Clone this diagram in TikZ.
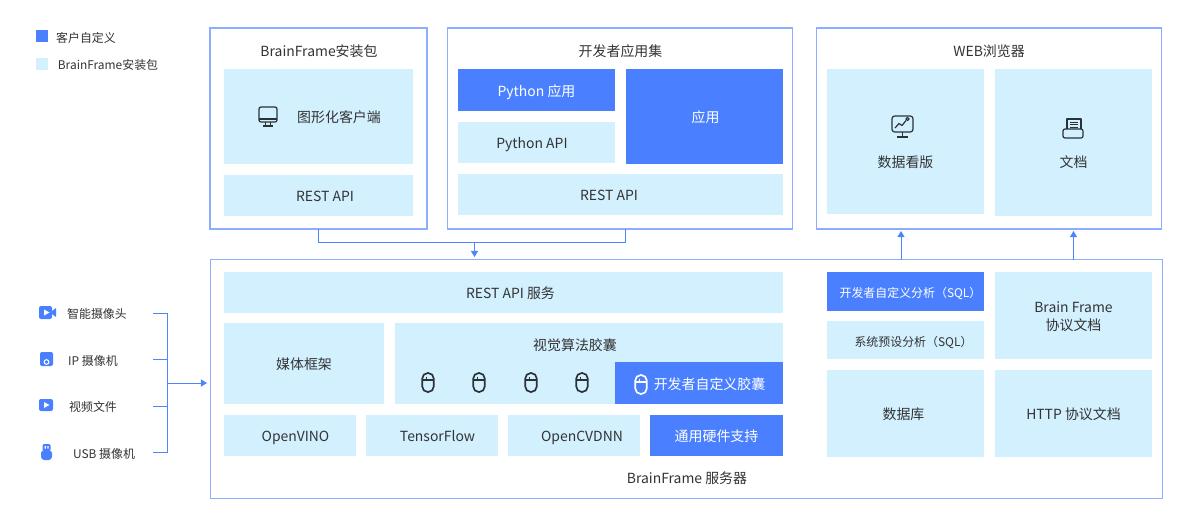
\documentclass[tikz,border=0pt]{standalone}
\usepackage{fontspec}
\setmainfont{Noto Sans CJK SC}
\usetikzlibrary{arrows.meta,calc}
\definecolor{lightb}{HTML}{D3F0FF}
\definecolor{blueb}{HTML}{4A80FF}
\definecolor{frameb}{HTML}{8DAEFF}
\definecolor{lineb}{HTML}{4F84FF}
\definecolor{txt}{HTML}{333333}
\definecolor{icon}{HTML}{2B3236}
\tikzset{
  base/.style={inner sep=0pt,outer sep=0pt,align=center,font=\fontsize{10.45pt}{13.5pt}\selectfont},
  light/.style={base,fill=lightb,text=txt,text height=10.2pt,text depth=1pt},
  blue/.style={base,fill=blueb,text=white,text height=10.2pt,text depth=1pt},
  frame/.style={base,draw=frameb,line width=0.8pt,fill=white},
  ttl/.style={base,text=txt},
  small/.style={font=\fontsize{8.95pt}{11pt}\selectfont},
  conn/.style={draw=lineb,line width=0.7pt},
  tip/.style={-{Triangle[length=4.6pt,width=5.4pt]}},
  ico/.style={draw=icon,line width=0.9pt,line join=round},
  swatchb/.style={fill=blueb,draw=none,inner sep=0pt,outer sep=0pt},
  swatchl/.style={fill=lightb,draw=none,inner sep=0pt,outer sep=0pt},
}
\newcommand\bx[7][]{%
  \pgfmathsetmacro\bw{(#4-#2)*0.75}\pgfmathsetmacro\bh{(#5-#3)*0.75}%
  \node[#6,minimum width=\bw pt,minimum height=\bh pt,#1] (#7) at ({(#2+#4)/2},{(#3+#5)/2})}
\newcommand\lbl[3]{% name, centre x, y
  \pgfmathsetmacro\bw{(153-#2)*2*0.75}%
  \node[ttl,small,minimum width=\bw pt] (#1) at (#2,#3)}
\newcommand\capsule[3]{% x, y, colour
  \begin{scope}[shift={(#1,#2)},draw=#3,line width=1.25pt]
    \draw[rounded corners=4.2pt] (-5.8,-9.5) rectangle (5.8,9.5);
    \draw (-5.8,-2.5) -- (5.8,-2.5);
    \draw (-1.5,-6) -- (-1.5,-3.5);
  \end{scope}}
\begin{document}
\begin{tikzpicture}[x=0.75pt,y=-0.75pt]
\useasboundingbox (0,0) rectangle (1188,526);
% legend
\bx{36}{30}{48}{42}{swatchb}{lega} {};
\node[ttl,small] (legat) at (86,38) {客户自定义};
\bx{36}{58}{48}{70}{swatchl}{legb} {};
\node[ttl,small] (legbt) at (108,65) {BrainFrame安装包};
% frames
\bx{210}{28}{427}{229}{frame}{pkg} {};
\bx{447.5}{28}{792.5}{229}{frame}{dev} {};
\bx{816.5}{28}{1161.5}{229}{frame}{web} {};
\bx{210.5}{259.5}{1162.5}{498.5}{frame}{srv} {};
\node[ttl] (pkgt) at (319,51) {BrainFrame安装包};
\node[ttl] (devt) at (620.5,51) {开发者应用集};
\node[ttl] (webt) at (989,51) {WEB浏览器};
\node[ttl] (srvt) at (687,478) {BrainFrame 服务器};
% package
\bx{224}{69}{413}{164}{light}{gui} {\hspace*{30.75pt}图形化客户端};
\bx{224}{175}{413}{216}{light}{rest1} {\hspace*{9.75pt}REST API};
% developer
\bx{458}{69}{615}{111}{blue}{pyapp} {Python 应用};
\bx{458}{122}{615}{163}{light}{pyapi} {Python API\hspace*{6.75pt}};
\bx{626}{69}{783}{164}{blue}{app} {\hspace*{1.5pt}应用};
\bx{458}{174}{783}{215}{light}{rest2} {REST API\hspace*{17.25pt}};
% web
\bx{827}{69}{984}{214}{light}{dash} {};
\bx{995}{69}{1152}{216}{light}{docs} {};
\node[ttl] (dasht) at (905.5,162) {数据看版};
\node[ttl] (docst) at (1073.5,162) {文档};
% server
\bx{224}{272}{783}{313}{light}{rest3} {\hspace*{10.5pt}REST API 服务};
\bx{224}{323}{384}{404}{light}{media} {媒体框架};
\bx{395}{323}{783}{404}{light}{vis} {};
\node[ttl] (vist) at (575,345) {视觉算法胶囊};
\bx{615}{362}{783}{404}{blue}{cust} {\hspace*{15.75pt}开发者自定义胶囊};
\bx{224}{415}{356}{456}{light}{ov} {\hspace*{8.25pt}OpenVINO};
\bx{366}{415}{498}{456}{light}{tf} {\hspace*{8.25pt}TensorFlow};
\bx{508}{415}{640}{456}{light}{cv} {\hspace*{12pt}OpenCVDNN};
\bx{650}{415}{783}{456}{blue}{hw} {通用硬件支持};
\bx{827}{272}{984}{311}{blue,small}{sql1} {\hspace*{7.5pt}开发者自定义分析（SQL）};
\bx{827}{321}{984}{359}{light,small}{sql2} {\hspace*{12pt}系统预设分析（SQL）};
\bx{827}{370}{984}{457}{light}{db} {数据库\hspace*{3pt}};
\bx{995}{272}{1152}{359}{light}{proto} {};
\node[ttl] (protot) at (1073.5,317) {Brain Frame\\协议文档};
\bx{995}{370}{1152}{457}{light}{http} {HTTP 协议文档};
% sources
\lbl{cam}{97}{314} {智能摄像头};
\lbl{ip}{93}{361} {IP 摄像机};
\lbl{vid}{93}{407} {视频文件};
\lbl{usb}{104}{454} {USB 摄像机};
% connectors
\coordinate (busTop) at (167,313);
\coordinate (busBot) at (167,452);
\coordinate (busMid) at (167,383);
\coordinate (inSrv) at (207,383);
\coordinate (cam0) at (153,313);
\coordinate (ip0) at (153,359);
\coordinate (vid0) at (153,406);
\coordinate (usb0) at (153,452);
\draw[conn] (cam0) -- (busTop) -- (busBot) -- (usb0);
\draw[conn] (ip0) -- (ip0 -| busTop);
\draw[conn] (vid0) -- (vid0 -| busTop);
\draw[conn,tip] (busMid) -- (inSrv);
\coordinate (devDrop) at (625.5,229);
\coordinate (join) at (474.5,242);
\coordinate (srvIn) at (474.5,257);
\draw[conn] (pkg.south) -- (pkg.south |- join) -- (devDrop |- join) -- (devDrop);
\draw[conn,tip] (join) -- (srvIn);
\coordinate (upA) at (901,259.5);
\coordinate (upB) at (1073.5,259.5);
\draw[conn,tip] (upA) -- (901,231);
\draw[conn,tip] (upB) -- (1073.5,231);
% capsules
\capsule{428}{382.5}{icon}
\capsule{479}{382.5}{icon}
\capsule{531}{382.5}{icon}
\capsule{582}{382.5}{icon}
\capsule{641}{384.5}{white}
% monitor icon
\draw[ico,rounded corners=1.5pt] (259,107) rectangle (277,122);
\draw[ico] (259,119) -- (277,119);
\draw[ico] (265.5,122) -- (265.5,126) (270.5,122) -- (270.5,126) (263,126) -- (273,126);
% dashboard icon
\draw[ico,rounded corners=2pt] (892,116) rectangle (913,132);
\draw[ico] (902.5,132) -- (902.5,137) (897,137) -- (908,137);
\draw[ico] (895,128) -- (899,123.5) -- (902,125.5) -- (906,120.5);
\draw[ico] (907.5,119) circle (1.6);
% doc icon
\draw[ico] (1067,129) -- (1067,119) -- (1081,119) -- (1081,129);
\draw[ico,rounded corners=1.5pt] (1063,129) rectangle (1083,138);
\draw[ico,line width=0.7pt] (1070,122) -- (1078,122) (1070,124.5) -- (1078,124.5) (1070,127) -- (1078,127);
% camera icon
\fill[blueb,rounded corners=1.5pt] (39,306) rectangle (52,319);
\fill[blueb] (52,311) -- (56,308) -- (56,317) -- (52,314) -- cycle;
\fill[white] (44,309.5) -- (49.5,312.5) -- (44,315.5) -- cycle;
% ip icon
\fill[blueb,rounded corners=1.5pt] (40,352) rectangle (53,366);
\draw[white,line width=0.8pt] (46.5,362) circle (2.3);
% video icon
\fill[blueb,rounded corners=1.5pt] (39,399) rectangle (53,411);
\fill[white] (44,402) -- (49.5,405) -- (44,408) -- cycle;
% usb icon
\fill[blueb,rounded corners=1pt] (42.5,444) rectangle (50.5,451);
\fill[blueb,rounded corners=2.5pt] (41,450) rectangle (52,460);
\fill[white] (44.5,446) rectangle (45.8,448.5) (47.3,446) rectangle (48.6,448.5);
\end{tikzpicture}
\end{document}
